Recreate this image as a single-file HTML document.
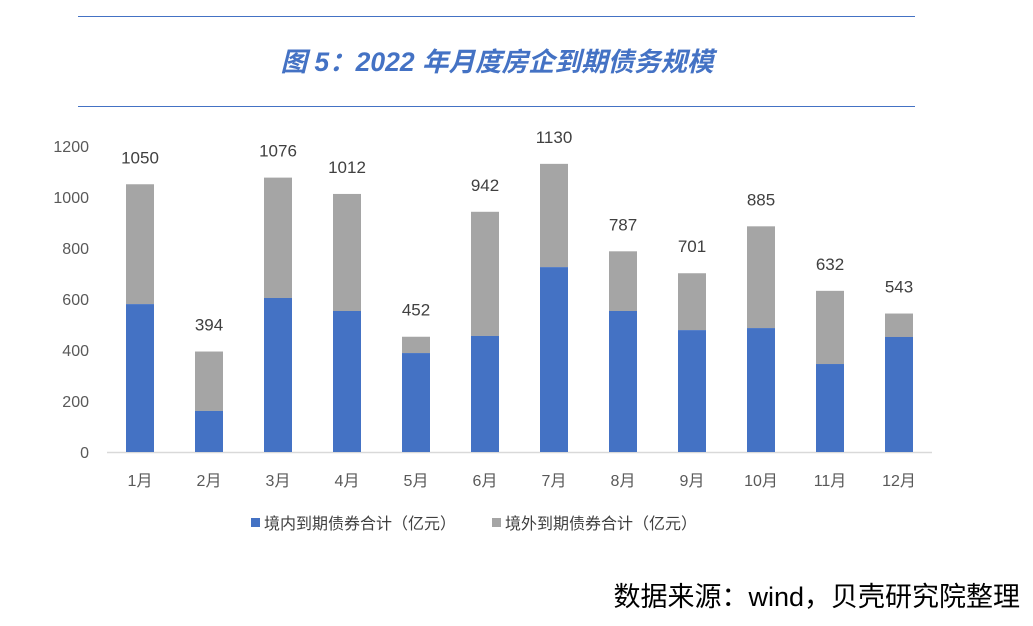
<!DOCTYPE html>
<html><head><meta charset="utf-8"><style>
body{margin:0;width:1033px;height:621px;background:#fff;overflow:hidden}
text{font-family:"Liberation Sans","Noto Sans CJK SC",sans-serif}
</style></head><body>
<svg width="1033" height="621" xmlns="http://www.w3.org/2000/svg">
<line x1="78" y1="16.5" x2="915" y2="16.5" stroke="#4472c4" stroke-width="1"/>
<line x1="78" y1="106.5" x2="915" y2="106.5" stroke="#4472c4" stroke-width="1"/>
<text x="497" y="71" text-anchor="middle" font-size="26.5" font-weight="bold" font-style="italic" fill="#4472c4">图 5：2022 年月度房企到期债务规模</text>
<g font-size="16" fill="#595959" text-anchor="end">
<text x="89" y="152">1200</text><text x="89" y="203">1000</text><text x="89" y="254">800</text>
<text x="89" y="305">600</text><text x="89" y="356">400</text><text x="89" y="407">200</text><text x="89" y="458">0</text>
</g>
<line x1="107" y1="452.5" x2="932" y2="452.5" stroke="#d9d9d9" stroke-width="1.5"/>
<g id="bars"></g>
<g font-size="16" fill="#404040">
<rect x="251" y="518" width="9" height="9" fill="#4472c4"/><text x="264" y="529">境内到期债券合计（亿元）</text>
<rect x="492" y="518" width="9" height="9" fill="#a5a5a5"/><text x="505" y="529">境外到期债券合计（亿元）</text>
</g>
<text x="1020" y="606" text-anchor="end" font-size="27" fill="#000">数据来源：wind，贝壳研究院整理</text>
</svg>
<script>
var tot=[1050,394,1076,1012,452,942,1130,787,701,885,632,543];
var dom=[580,161,604,553,388,455,725,553,478,486,345,451];
var g=document.getElementById('bars'),s='',k=0.255;
for(var i=0;i<12;i++){var c=140+i*69,x=c-14;
var yt=452-tot[i]*k,yd=452-dom[i]*k;
s+='<rect x="'+x+'" y="'+yt+'" width="28" height="'+(yd-yt)+'" fill="#a5a5a5"/>';
s+='<rect x="'+x+'" y="'+yd+'" width="28" height="'+(452-yd)+'" fill="#4472c4"/>';
s+='<text x="'+c+'" y="'+(yt-21)+'" text-anchor="middle" font-size="17" fill="#404040">'+tot[i]+'</text>';
s+='<text x="'+c+'" y="486" text-anchor="middle" font-size="16" fill="#595959">'+(i+1)+'月</text>';}
g.innerHTML=s;
</script>
</body></html>
